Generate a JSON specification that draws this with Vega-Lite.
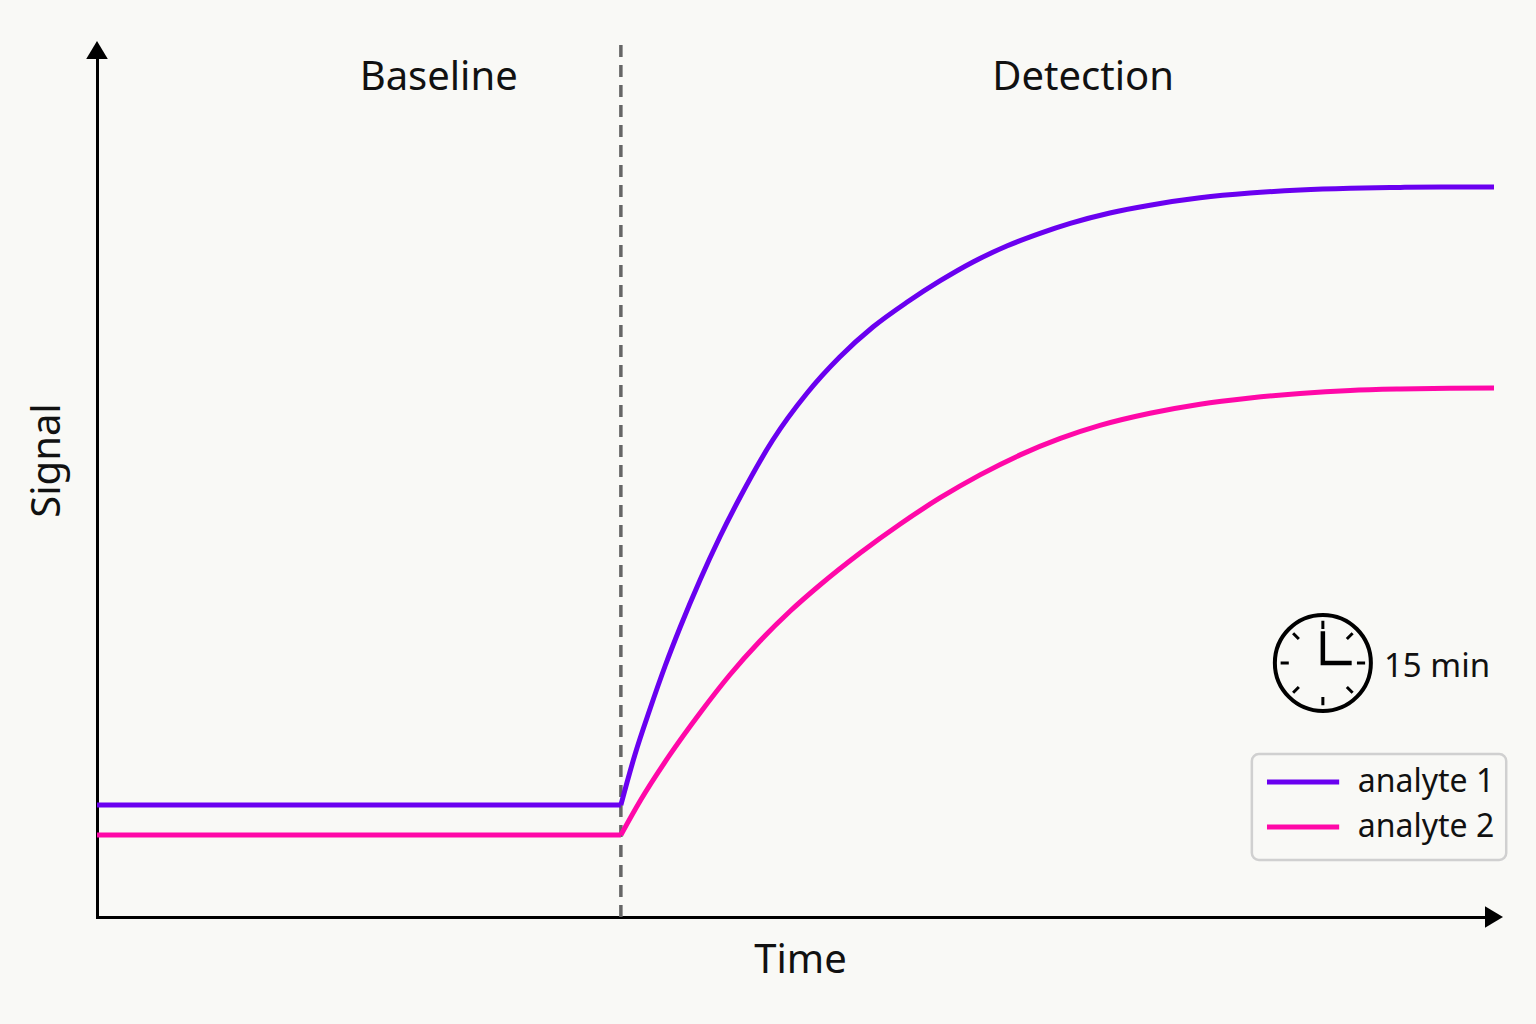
{
  "$schema": "https://vega.github.io/schema/vega-lite/v6.json",
  "description": "Signal vs time for two analytes: baseline then detection phase",
  "width": 1397,
  "height": 867,
  "autosize": "none",
  "padding": {"left": 97, "top": 50, "right": 42, "bottom": 107},
  "background": "#f9f9f6",
  "datasets": {
    "curves": [
      {"series": "analyte 1", "phase": "baseline", "t": -9, "signal": 12.92},
      {"series": "analyte 1", "phase": "baseline", "t": 0, "signal": 12.92},
      {"series": "analyte 1", "phase": "detection", "t": 0, "signal": 12.92},
      {"series": "analyte 1", "phase": "detection", "t": 0.24, "signal": 18.69},
      {"series": "analyte 1", "phase": "detection", "t": 0.5, "signal": 23.99},
      {"series": "analyte 1", "phase": "detection", "t": 0.76, "signal": 28.95},
      {"series": "analyte 1", "phase": "detection", "t": 1.02, "signal": 33.45},
      {"series": "analyte 1", "phase": "detection", "t": 1.36, "signal": 38.87},
      {"series": "analyte 1", "phase": "detection", "t": 1.7, "signal": 43.83},
      {"series": "analyte 1", "phase": "detection", "t": 2.05, "signal": 48.44},
      {"series": "analyte 1", "phase": "detection", "t": 2.61, "signal": 55.02},
      {"series": "analyte 1", "phase": "detection", "t": 3.2, "signal": 60.44},
      {"series": "analyte 1", "phase": "detection", "t": 3.76, "signal": 64.59},
      {"series": "analyte 1", "phase": "detection", "t": 4.33, "signal": 68.05},
      {"series": "analyte 1", "phase": "detection", "t": 4.92, "signal": 70.93},
      {"series": "analyte 1", "phase": "detection", "t": 5.48, "signal": 73.36},
      {"series": "analyte 1", "phase": "detection", "t": 6.05, "signal": 75.55},
      {"series": "analyte 1", "phase": "detection", "t": 6.63, "signal": 77.39},
      {"series": "analyte 1", "phase": "detection", "t": 7.2, "signal": 78.85},
      {"series": "analyte 1", "phase": "detection", "t": 7.72, "signal": 80.0},
      {"series": "analyte 1", "phase": "detection", "t": 8.4, "signal": 81.2},
      {"series": "analyte 1", "phase": "detection", "t": 9.09, "signal": 82.1},
      {"series": "analyte 1", "phase": "detection", "t": 9.95, "signal": 82.95},
      {"series": "analyte 1", "phase": "detection", "t": 10.81, "signal": 83.5},
      {"series": "analyte 1", "phase": "detection", "t": 11.67, "signal": 83.85},
      {"series": "analyte 1", "phase": "detection", "t": 12.53, "signal": 84.05},
      {"series": "analyte 1", "phase": "detection", "t": 13.39, "signal": 84.15},
      {"series": "analyte 1", "phase": "detection", "t": 14.24, "signal": 84.2},
      {"series": "analyte 1", "phase": "detection", "t": 15, "signal": 84.2},
      {"series": "analyte 2", "phase": "baseline", "t": -9, "signal": 9.46},
      {"series": "analyte 2", "phase": "baseline", "t": 0, "signal": 9.46},
      {"series": "analyte 2", "phase": "detection", "t": 0, "signal": 9.46},
      {"series": "analyte 2", "phase": "detection", "t": 0.33, "signal": 13.38},
      {"series": "analyte 2", "phase": "detection", "t": 0.84, "signal": 18.69},
      {"series": "analyte 2", "phase": "detection", "t": 1.36, "signal": 23.53},
      {"series": "analyte 2", "phase": "detection", "t": 1.87, "signal": 27.91},
      {"series": "analyte 2", "phase": "detection", "t": 2.39, "signal": 31.83},
      {"series": "analyte 2", "phase": "detection", "t": 2.91, "signal": 35.29},
      {"series": "analyte 2", "phase": "detection", "t": 3.42, "signal": 38.29},
      {"series": "analyte 2", "phase": "detection", "t": 4.11, "signal": 41.98},
      {"series": "analyte 2", "phase": "detection", "t": 4.8, "signal": 45.33},
      {"series": "analyte 2", "phase": "detection", "t": 5.48, "signal": 48.33},
      {"series": "analyte 2", "phase": "detection", "t": 6.17, "signal": 51.0},
      {"series": "analyte 2", "phase": "detection", "t": 6.86, "signal": 53.3},
      {"series": "analyte 2", "phase": "detection", "t": 7.55, "signal": 55.2},
      {"series": "analyte 2", "phase": "detection", "t": 8.23, "signal": 56.7},
      {"series": "analyte 2", "phase": "detection", "t": 9.09, "signal": 58.1},
      {"series": "analyte 2", "phase": "detection", "t": 9.95, "signal": 59.15},
      {"series": "analyte 2", "phase": "detection", "t": 10.81, "signal": 59.86},
      {"series": "analyte 2", "phase": "detection", "t": 11.67, "signal": 60.38},
      {"series": "analyte 2", "phase": "detection", "t": 12.53, "signal": 60.73},
      {"series": "analyte 2", "phase": "detection", "t": 13.39, "signal": 60.9},
      {"series": "analyte 2", "phase": "detection", "t": 14.24, "signal": 60.99},
      {"series": "analyte 2", "phase": "detection", "t": 15, "signal": 61.01}
    ],
    "phases": [
      {"label": "Baseline", "t": -3.13, "signal": 96.8},
      {"label": "Detection", "t": 7.94, "signal": 96.8}
    ],
    "split": [{"t": 0, "bottom": 0, "top": 101.2}],
    "yArrow": [{"t": -9, "signal": 100}],
    "xArrow": [{"t": 15, "signal": 0}],
    "clock": [{"t": 12.06, "signal": 29.3, "label": "15 min", "labelT": 13.11, "labelSignal": 28.8}],
    "legendBox": [{"t1": 10.84, "t2": 15.21, "s1": 6.57, "s2": 18.8}],
    "legendItems": [
      {"series": "analyte 1", "t1": 11.1, "t2": 12.34, "labelT": 12.66, "signal": 15.57},
      {"series": "analyte 2", "t1": 11.1, "t2": 12.34, "labelT": 12.66, "signal": 10.38}
    ]
  },
  "encoding": {
    "x": {
      "field": "t",
      "type": "quantitative",
      "scale": {"domain": [-9, 15], "nice": false, "zero": false},
      "axis": {
        "title": "Time",
        "titleX": 703,
        "titlePadding": 23,
        "domainColor": "#000000",
        "domainWidth": 3,
        "domainCap": "square",
        "ticks": false,
        "labels": false,
        "grid": false
      }
    },
    "y": {
      "field": "signal",
      "type": "quantitative",
      "scale": {"domain": [0, 100], "nice": false},
      "axis": {
        "title": "Signal",
        "titleY": 410,
        "titlePadding": 30,
        "domainColor": "#000000",
        "domainWidth": 3,
        "domainCap": "square",
        "ticks": false,
        "labels": false,
        "grid": false
      }
    }
  },
  "layer": [
    {
      "data": {"name": "split"},
      "mark": {"type": "rule", "color": "#666666", "strokeWidth": 3.5, "strokeDash": [12, 8]},
      "encoding": {
        "y": {"field": "bottom", "type": "quantitative"},
        "y2": {"field": "top"}
      }
    },
    {
      "data": {"name": "curves"},
      "mark": {"type": "line", "strokeWidth": 5, "strokeCap": "butt", "strokeJoin": "round", "interpolate": "monotone"},
      "encoding": {
        "detail": {"field": "phase"},
        "color": {
          "field": "series",
          "type": "nominal",
          "scale": {"domain": ["analyte 1", "analyte 2"], "range": ["#6a00f0", "#ff08a8"]},
          "legend": null
        }
      }
    },
    {
      "data": {"name": "phases"},
      "mark": {"type": "text", "fontSize": 40, "baseline": "middle", "align": "center"},
      "encoding": {"text": {"field": "label"}}
    },
    {
      "data": {"name": "yArrow"},
      "mark": {"type": "point", "shape": "M0,-1L1.2,1L-1.2,1Z", "size": 324, "filled": true, "color": "#000000", "opacity": 1}
    },
    {
      "data": {"name": "xArrow"},
      "mark": {"type": "point", "shape": "M1,0L-1,-1.2L-1,1.2Z", "size": 324, "filled": true, "color": "#000000", "opacity": 1}
    },
    {
      "data": {"name": "clock"},
      "mark": {"type": "point", "shape": "circle", "size": 9216, "filled": false, "stroke": "#000000", "strokeWidth": 4, "opacity": 1}
    },
    {
      "data": {"name": "clock"},
      "mark": {
        "type": "point",
        "shape": "M0,-0.71L0,-0.88M0.71,0L0.88,0M0,0.71L0,0.88M-0.71,0L-0.88,0M0.5,-0.5L0.62,-0.62M0.5,0.5L0.62,0.62M-0.5,0.5L-0.62,0.62M-0.5,-0.5L-0.62,-0.62",
        "size": 9216, "filled": false, "stroke": "#000000", "strokeWidth": 3, "opacity": 1
      }
    },
    {
      "data": {"name": "clock"},
      "mark": {
        "type": "point",
        "shape": "M0,-0.66L0,0L0.6,0",
        "size": 9216, "filled": false, "stroke": "#000000", "strokeWidth": 4.5, "strokeJoin": "miter", "strokeCap": "butt", "opacity": 1
      }
    },
    {
      "data": {"name": "clock"},
      "mark": {"type": "text", "fontSize": 33, "align": "left", "baseline": "middle"},
      "encoding": {
        "x": {"field": "labelT", "type": "quantitative"},
        "y": {"field": "labelSignal", "type": "quantitative"},
        "text": {"field": "label"}
      }
    },
    {
      "data": {"name": "legendBox"},
      "mark": {"type": "rect", "fill": "#f9f9f6", "stroke": "#d0d0d0", "strokeWidth": 2.5, "cornerRadius": 7},
      "encoding": {
        "x": {"field": "t1", "type": "quantitative"},
        "x2": {"field": "t2"},
        "y": {"field": "s1", "type": "quantitative"},
        "y2": {"field": "s2"}
      }
    },
    {
      "data": {"name": "legendItems"},
      "mark": {"type": "rule", "strokeWidth": 5, "strokeCap": "butt"},
      "encoding": {
        "x": {"field": "t1", "type": "quantitative"},
        "x2": {"field": "t2"},
        "color": {"field": "series", "type": "nominal", "legend": null}
      }
    },
    {
      "data": {"name": "legendItems"},
      "mark": {"type": "text", "fontSize": 32, "align": "left", "baseline": "middle"},
      "encoding": {
        "x": {"field": "labelT", "type": "quantitative"},
        "text": {"field": "series"}
      }
    }
  ],
  "config": {
    "view": {"stroke": null},
    "font": "Noto Sans",
    "text": {"color": "#111111", "font": "Noto Sans"},
    "axis": {"titleFont": "Noto Sans", "titleFontSize": 40, "titleFontWeight": "normal", "titleColor": "#111111"}
  }
}
